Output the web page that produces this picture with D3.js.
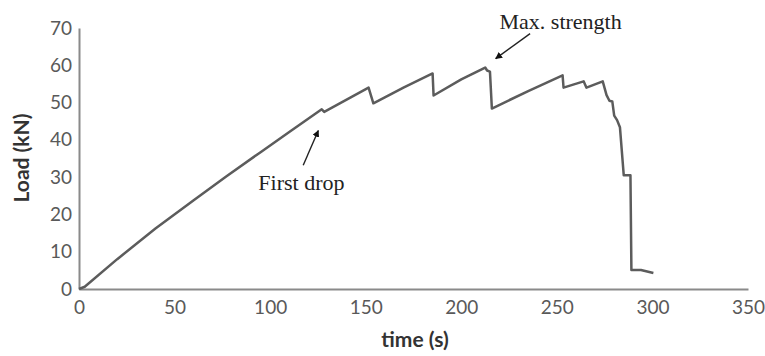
<!DOCTYPE html>
<html>
<head>
<meta charset="utf-8">
<script src="https://cdn.jsdelivr.net/npm/d3@7"></script>
<style>
  body { margin: 0; background: #fff; }
</style>
</head>
<body>
<div id="chart"></div>
<script>
// time (s) and load (kN)
const time = [0, 3, 20, 40, 60, 77, 95, 110, 127, 128.3, 151.5, 154, 170, 185, 185.5, 200, 212.5, 213.5, 215, 216, 235, 253, 253.5, 264, 265.5, 274, 276, 277.5, 279, 280, 281.5, 283, 285, 288.5, 289, 294, 300.5];
const load = [0, 0.6, 8, 16.2, 23.8, 30.2, 36.7, 42.1, 48.2, 47.5, 54, 49.8, 54.1, 57.8, 51.9, 56.2, 59.4, 58.6, 58.3, 48.4, 53.1, 57.3, 54, 55.7, 54, 55.7, 52, 50.5, 50.3, 46.5, 45.3, 43.4, 30.5, 30.5, 5.1, 5.1, 4.3];

const xTicks = [0, 50, 100, 150, 200, 250, 300, 350];
const yTicks = [0, 10, 20, 30, 40, 50, 60, 70];

// annotations: label, text position, arrow tail, arrow tip (data units)
const notes = [
  { label: "Max. strength", tx: 220, ty: 69.6, x1: 236, y1: 68.5, x2: 218, y2: 61.8 },
  { label: "First drop", tx: 93.8, ty: 26.5, x1: 117.3, y1: 33.2, x2: 125.2, y2: 42.5 }
];

const W = 765, H = 356;
const margin = { top: 28, right: 17, bottom: 67, left: 79 };

const svg = d3.select("#chart")
  .append("svg")
  .attr("width", W)
  .attr("height", H);

const x = d3.scaleLinear().domain([0, 350]).range([margin.left, W - margin.right]);
const y = d3.scaleLinear().domain([0, 70]).range([H - margin.bottom, margin.top]);

svg.append("defs").append("marker")
  .attr("id", "head")
  .attr("viewBox", "0 0 10 10")
  .attr("refX", 9)
  .attr("refY", 5)
  .attr("markerWidth", 7)
  .attr("markerHeight", 7)
  .attr("markerUnits", "userSpaceOnUse")
  .attr("orient", "auto")
  .append("path")
  .attr("d", "M0,0 L10,5 L0,10 z")
  .attr("fill", "#111");

// axes
const xAxis = svg.append("g")
  .attr("transform", "translate(0," + y(0) + ")")
  .call(d3.axisBottom(x).tickValues(xTicks).tickSize(0).tickPadding(12));

const yAxis = svg.append("g")
  .attr("transform", "translate(" + x(0) + ",0)")
  .call(d3.axisLeft(y).tickValues(yTicks).tickSize(0).tickPadding(7));

[xAxis, yAxis].forEach(g => {
  g.select(".domain").attr("stroke", "#8a8a8a").attr("stroke-width", 2);
  g.selectAll("text")
    .attr("font-family", "Lato, sans-serif")
    .attr("font-size", 19)
    .attr("fill", "#595959");
});

// curve
svg.append("path")
  .datum(time.map((t, i) => [t, load[i]]))
  .attr("fill", "none")
  .attr("stroke", "#5c5c5c")
  .attr("stroke-width", 2.5)
  .attr("stroke-linejoin", "round")
  .attr("d", d3.line().x(d => x(d[0])).y(d => y(d[1])));

// annotations
notes.forEach(n => {
  svg.append("line")
    .attr("x1", x(n.x1)).attr("y1", y(n.y1))
    .attr("x2", x(n.x2)).attr("y2", y(n.y2))
    .attr("stroke", "#222")
    .attr("stroke-width", 1.4)
    .attr("marker-end", "url(#head)");
  svg.append("text")
    .attr("x", x(n.tx))
    .attr("y", y(n.ty))
    .attr("font-family", "Liberation Serif, serif")
    .attr("font-size", 22)
    .attr("fill", "#222")
    .text(n.label);
});

// axis titles
svg.append("text")
  .attr("x", 415)
  .attr("y", 347)
  .attr("text-anchor", "middle")
  .attr("font-family", "Lato, sans-serif")
  .attr("font-weight", "bold")
  .attr("font-size", 21)
  .attr("fill", "#333")
  .text("time (s)");

svg.append("text")
  .attr("transform", "translate(29,158) rotate(-90)")
  .attr("text-anchor", "middle")
  .attr("font-family", "Lato, sans-serif")
  .attr("font-weight", "bold")
  .attr("font-size", 21)
  .attr("fill", "#333")
  .text("Load (kN)");
</script>
</body>
</html>
